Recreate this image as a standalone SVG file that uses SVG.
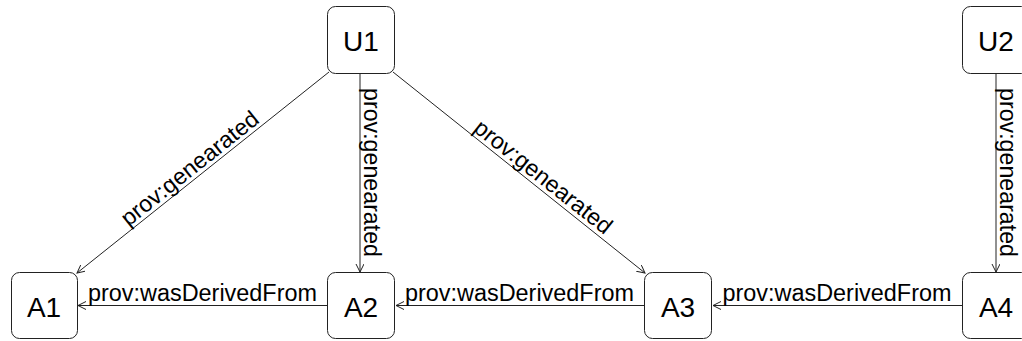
<svg xmlns="http://www.w3.org/2000/svg" width="1022" height="341" viewBox="0 0 1022 341">
<defs>
<style>
.node rect{fill:#fff;stroke:#222;stroke-width:1}
.node text{font-family:"Liberation Sans",Arial,sans-serif;font-size:28px;fill:#000;text-anchor:middle}
.edge line{stroke:#222;stroke-width:1;fill:none}
.lbl{font-family:"Liberation Sans",Arial,sans-serif;font-size:23px;fill:#000;text-anchor:middle}
</style>
<marker id="arr" markerUnits="userSpaceOnUse" markerWidth="10" markerHeight="10" refX="8" refY="4" orient="auto">
<path d="M0,0 L8,4 L0,8" fill="none" stroke="#222" stroke-width="1"/>
</marker>
</defs>
<rect width="1022" height="341" fill="#fff"/>
<g id="connectors" class="edge">
<line x1="329" y1="72" x2="77" y2="273" marker-end="url(#arr)"/>
<line x1="360" y1="73" x2="360" y2="272" marker-end="url(#arr)"/>
<line x1="393" y1="72" x2="645" y2="273" marker-end="url(#arr)"/>
<line x1="996" y1="73" x2="996" y2="272" marker-end="url(#arr)"/>
<line x1="327" y1="305.5" x2="78" y2="305.5" marker-end="url(#arr)"/>
<line x1="644" y1="305.5" x2="396" y2="305.5" marker-end="url(#arr)"/>
<line x1="962" y1="305.5" x2="713" y2="305.5" marker-end="url(#arr)"/>
<text class="lbl" transform="translate(197,177.5) rotate(-38.6)" y="-4" textLength="169" lengthAdjust="spacingAndGlyphs">prov:genearated</text>
<text class="lbl" transform="translate(360,172.5) rotate(90)" y="-4" textLength="169" lengthAdjust="spacingAndGlyphs">prov:genearated</text>
<text class="lbl" transform="translate(536,186) rotate(38.4)" y="-4" textLength="169" lengthAdjust="spacingAndGlyphs">prov:genearated</text>
<text class="lbl" transform="translate(996,172.5) rotate(90)" y="-4" textLength="169" lengthAdjust="spacingAndGlyphs">prov:genearated</text>
<text class="lbl" x="202.5" y="301" textLength="229" lengthAdjust="spacingAndGlyphs">prov:wasDerivedFrom</text>
<text class="lbl" x="519.5" y="301" textLength="229" lengthAdjust="spacingAndGlyphs">prov:wasDerivedFrom</text>
<text class="lbl" x="837" y="301" textLength="229" lengthAdjust="spacingAndGlyphs">prov:wasDerivedFrom</text>
</g>
<g id="U1" class="node"><rect x="327.5" y="6.5" width="67" height="67" rx="8"/><text x="361" y="51">U1</text></g>
<g id="U2" class="node"><rect x="962.5" y="6.5" width="67" height="67" rx="8"/><text x="996" y="51">U2</text></g>
<g id="A1" class="node"><rect x="11.5" y="272.5" width="66" height="66" rx="8"/><text x="44" y="316.5">A1</text></g>
<g id="A2" class="node"><rect x="327.5" y="272.5" width="67" height="66" rx="8"/><text x="361" y="316.5">A2</text></g>
<g id="A3" class="node"><rect x="644.5" y="272.5" width="67" height="66" rx="8"/><text x="678" y="316.5">A3</text></g>
<g id="A4" class="node"><rect x="962.5" y="272.5" width="67" height="66" rx="8"/><text x="996" y="316.5">A4</text></g>
</svg>
